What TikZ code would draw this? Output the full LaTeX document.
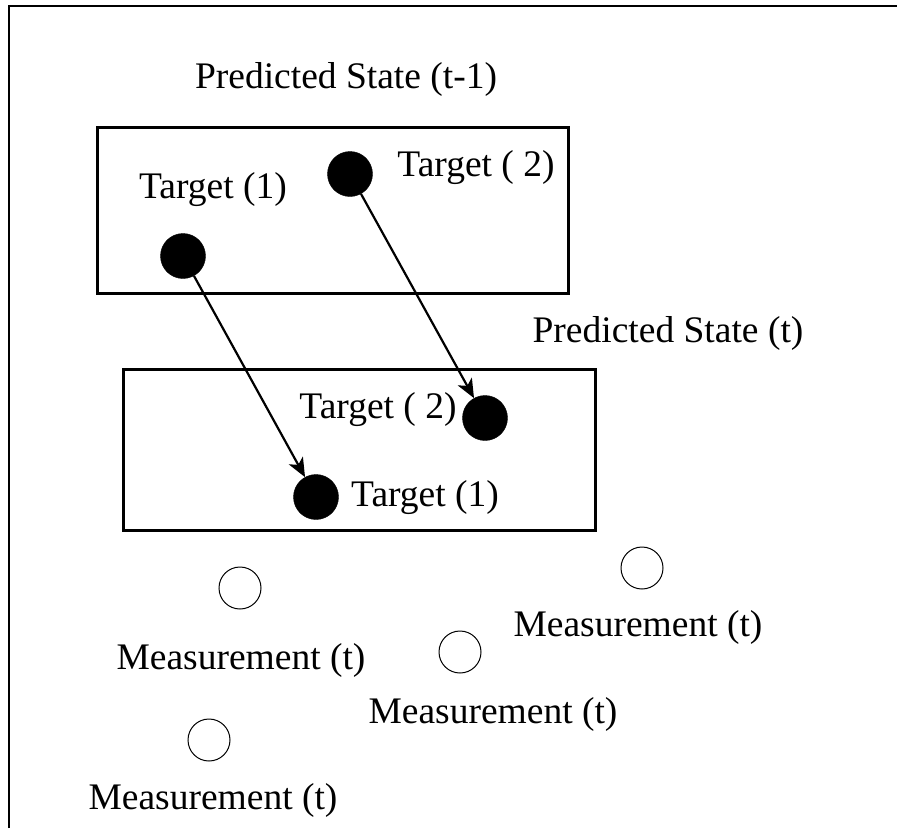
\documentclass[tikz,border=0pt]{standalone}
\usepackage{fontspec}
\setmainfont{Liberation Serif}
\usetikzlibrary{arrows.meta}
\begin{document}
\begin{tikzpicture}[x=1pt,y=-1pt,
  lbl/.style={inner sep=0pt, font=\fontsize{37.5}{44}\selectfont},
  target/.style={circle, fill=black, draw=black, minimum size=45pt, inner sep=0pt},
  meas/.style={circle, draw=black, line width=1pt, minimum size=42pt, inner sep=0pt},
  statebox/.style={draw=black, line width=3pt},
  move/.style={line width=2.2pt, -{Stealth[length=19pt,width=16pt,inset=5pt]}}]
  \useasboundingbox (0,0) rectangle (897,828);
  % open frame (left and top edges only)
  \draw[line width=2pt] (9,828) -- (9,6) -- (897,6);

  % state boxes
  \draw[statebox] (97,127) rectangle (568,293);
  \draw[statebox] (123,369) rectangle (595,530);

  % captions
  \node[lbl] (cap1) at (346,79) {Predicted State (t-1)};
  \node[lbl] (cap2) at (668,333) {Predicted State (t)};

  % targets at t-1
  \node[target] (t1a) at (183,256) {};
  \node[target] (t2a) at (350,174) {};
  \node[lbl] (l1a) at (213,190) {Target (1)};
  \node[lbl] (l2a) at (476,168) {Target ( 2)};

  % targets at t
  \node[target] (t2b) at (485,418) {};
  \node[target] (t1b) at (316,497) {};
  \node[lbl] (l2b) at (378,410) {Target ( 2)};
  \node[lbl] (l1b) at (425,498) {Target (1)};

  \draw[move] (t1a) -- (t1b);
  \draw[move] (t2a) -- (t2b);

  % measurements
  \node[meas] (m1) at (240,588) {};
  \node[meas] (m2) at (642,568) {};
  \node[meas] (m3) at (460,652) {};
  \node[meas] (m4) at (209,740) {};
  \node[lbl] (ml1) at (241,660) {Measurement (t)};
  \node[lbl] (ml2) at (638,627) {Measurement (t)};
  \node[lbl] (ml3) at (493,714) {Measurement (t)};
  \node[lbl] (ml4) at (213,800) {Measurement (t)};
\end{tikzpicture}
\end{document}
